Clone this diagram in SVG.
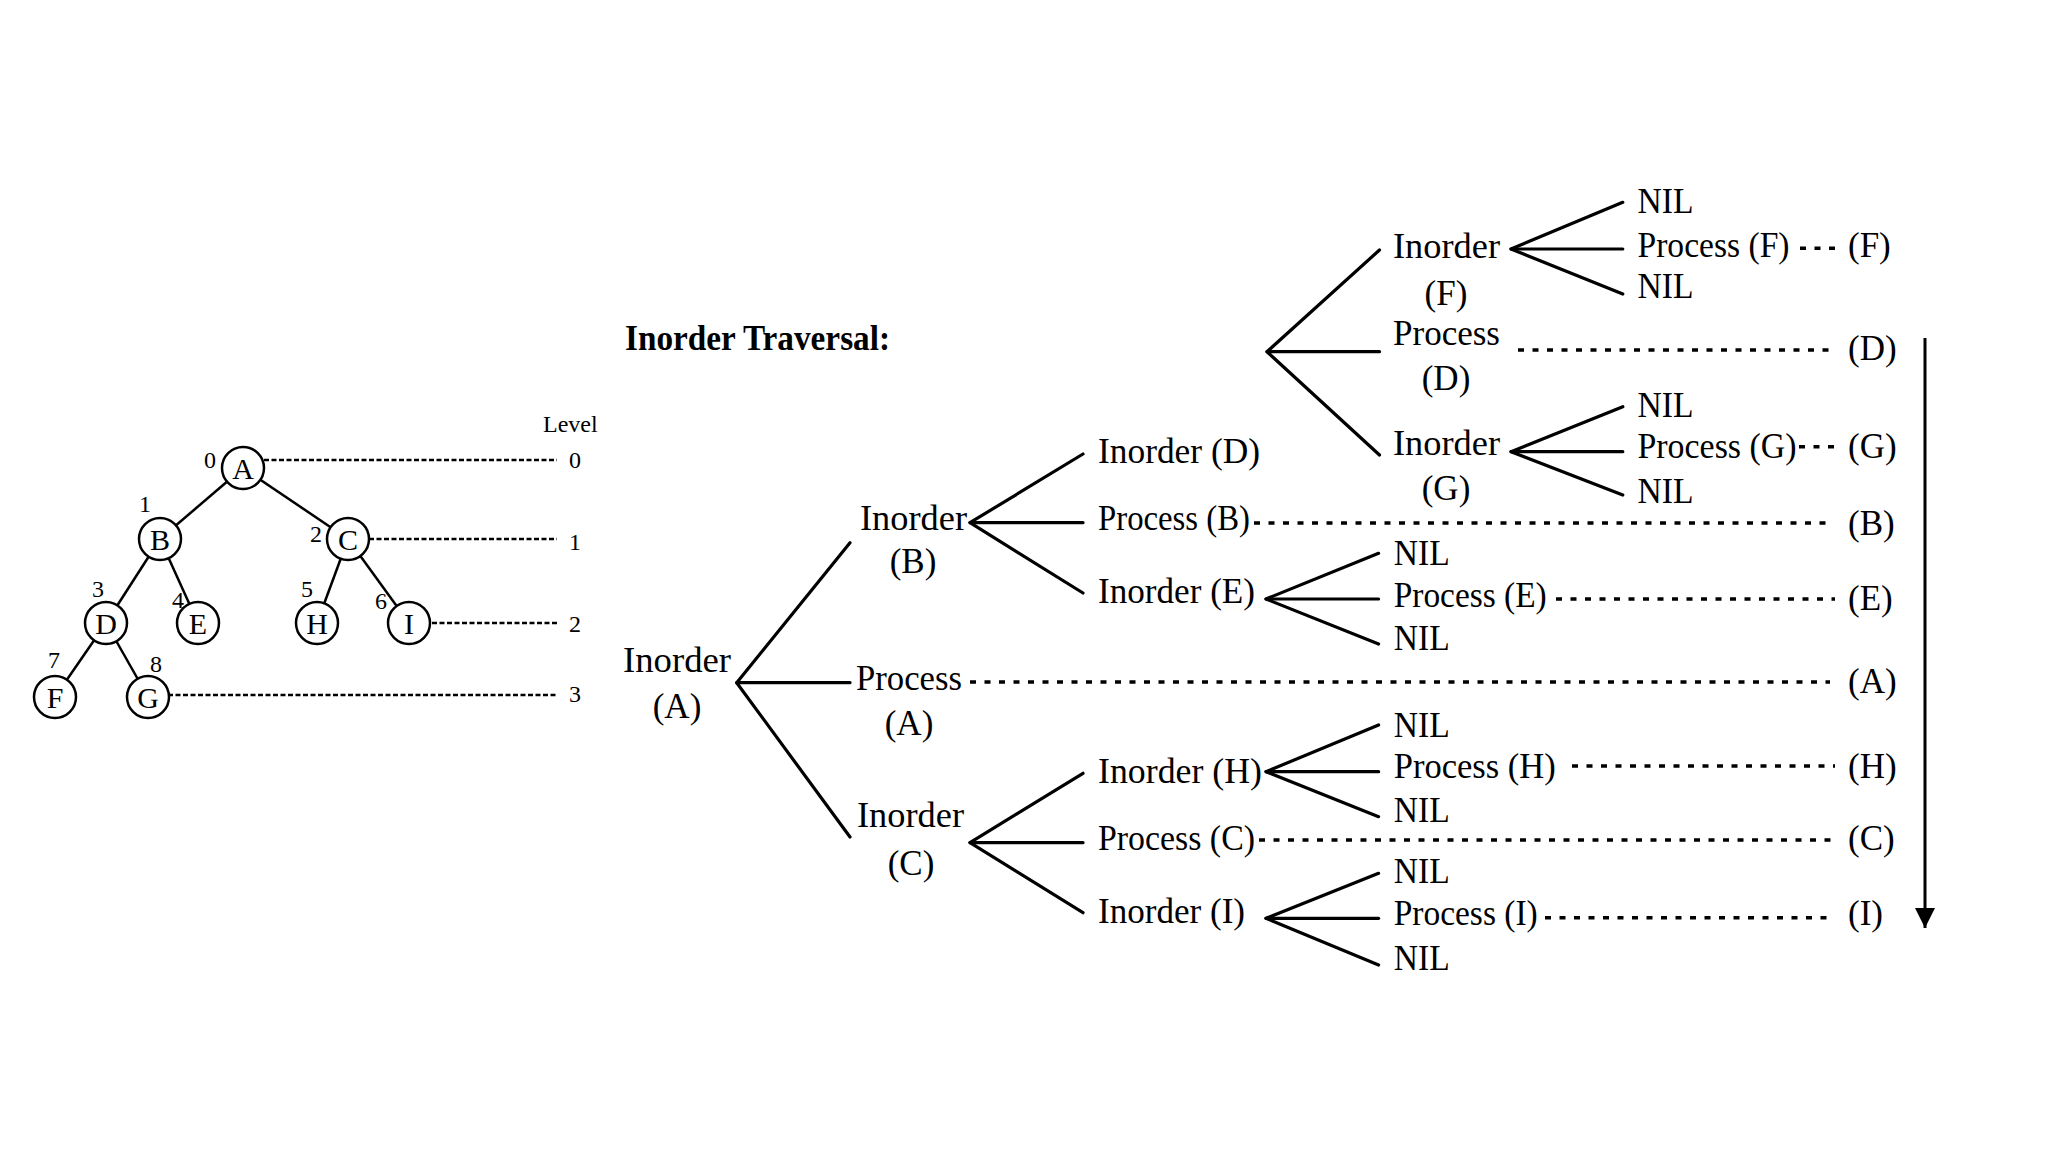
<svg xmlns="http://www.w3.org/2000/svg" width="2048" height="1152" viewBox="0 0 2048 1152">
<style>
  .t { font-family: "Liberation Serif", "Times New Roman", serif; font-size: 35px; fill: #000; }
  .s { font-family: "Liberation Serif", "Times New Roman", serif; font-size: 24px; fill: #000; }
  .c { text-anchor: middle; }
  .ttl { font-family: "Liberation Serif", "Times New Roman", serif; font-size: 35px; font-weight: bold; fill: #000; }
  .ln { stroke: #000; stroke-width: 3.2; fill: none; stroke-linecap: round; stroke-linejoin: round; }
  .edge { stroke: #000; stroke-width: 2.5; fill: none; }
  .dot { stroke: #000; stroke-width: 3.5; fill: none; stroke-dasharray: 6 8.5; }
  .lvl { stroke: #000; stroke-width: 2.5; fill: none; stroke-dasharray: 5 2.5; }
  .circ { fill: #fff; stroke: #000; stroke-width: 2.5; }
  .nl { font-family: "Liberation Serif", "Times New Roman", serif; font-size: 30px; fill: #000; text-anchor: middle; }
</style>
<defs>
  <marker id="arr" viewBox="0 0 10 10" refX="10" refY="5" markerWidth="20" markerHeight="22" markerUnits="userSpaceOnUse" orient="auto">
    <path d="M0,0 L10,5 L0,10 Z" fill="#000"/>
  </marker>
</defs>
<rect width="2048" height="1152" fill="#fff"/>

<!-- left tree -->
<g id="tree-edges">
  <line class="edge" x1="243" y1="468" x2="160" y2="539"/>
  <line class="edge" x1="243" y1="468" x2="348" y2="539"/>
  <line class="edge" x1="160" y1="539" x2="106" y2="623"/>
  <line class="edge" x1="160" y1="539" x2="198" y2="623"/>
  <line class="edge" x1="348" y1="539" x2="317" y2="623"/>
  <line class="edge" x1="348" y1="539" x2="409" y2="623"/>
  <line class="edge" x1="106" y1="623" x2="55" y2="697"/>
  <line class="edge" x1="106" y1="623" x2="148" y2="697"/>
</g>
<g id="level-lines">
  <line class="lvl" x1="264" y1="460" x2="557" y2="460"/>
  <line class="lvl" x1="369" y1="539" x2="557" y2="539"/>
  <line class="lvl" x1="432" y1="623" x2="557" y2="623"/>
  <line class="lvl" x1="168" y1="695" x2="557" y2="695"/>
</g>
<g id="node-A"><circle class="circ" cx="243" cy="468" r="21"/><text class="nl" x="243" y="478.5">A</text><text class="s c" x="210" y="468">0</text></g>
<g id="node-B"><circle class="circ" cx="160" cy="539" r="21"/><text class="nl" x="160" y="549.5">B</text><text class="s c" x="145" y="512">1</text></g>
<g id="node-C"><circle class="circ" cx="348" cy="539" r="21"/><text class="nl" x="348" y="549.5">C</text><text class="s c" x="316" y="542">2</text></g>
<g id="node-D"><circle class="circ" cx="106" cy="623" r="21"/><text class="nl" x="106" y="633.5">D</text><text class="s c" x="98" y="597">3</text></g>
<g id="node-E"><circle class="circ" cx="198" cy="623" r="21"/><text class="nl" x="198" y="633.5">E</text><text class="s c" x="178" y="608">4</text></g>
<g id="node-H"><circle class="circ" cx="317" cy="623" r="21"/><text class="nl" x="317" y="633.5">H</text><text class="s c" x="307" y="597">5</text></g>
<g id="node-I"><circle class="circ" cx="409" cy="623" r="21"/><text class="nl" x="409" y="633.5">I</text><text class="s c" x="381" y="609">6</text></g>
<g id="node-F"><circle class="circ" cx="55" cy="697" r="21"/><text class="nl" x="55" y="707.5">F</text><text class="s c" x="54" y="668">7</text></g>
<g id="node-G"><circle class="circ" cx="148" cy="697" r="21"/><text class="nl" x="148" y="707.5">G</text><text class="s c" x="156" y="672">8</text></g>
<g id="level-labels">
  <text class="s" x="543" y="432" font-size="26">Level</text>
  <text class="s c" x="575" y="468">0</text>
  <text class="s c" x="575" y="550">1</text>
  <text class="s c" x="575" y="632">2</text>
  <text class="s c" x="575" y="702">3</text>
</g>

<!-- title -->
<g id="title"><text class="ttl" x="625" y="350" textLength="265" lengthAdjust="spacingAndGlyphs">Inorder Traversal:</text></g>

<!-- connectors -->
<g id="connectors">
  <polyline class="ln" points="850,542.7 736.7,682.7 850,837"/>
  <line class="ln" x1="736.7" y1="682.7" x2="850" y2="682.7"/>
  <polyline class="ln" points="1083,454 970,522.7 1083,593"/>
  <line class="ln" x1="970" y1="522.7" x2="1083" y2="522.7"/>
  <polyline class="ln" points="1083,773.3 970,842.7 1083,912.7"/>
  <line class="ln" x1="970" y1="842.7" x2="1083" y2="842.7"/>
  <polyline class="ln" points="1379.5,250 1267,351.7 1379.5,455"/>
  <line class="ln" x1="1267" y1="351.7" x2="1379.5" y2="351.7"/>
  <polyline class="ln" points="1622.8,202.3 1511,249 1622.8,294"/>
  <line class="ln" x1="1511" y1="249" x2="1622.8" y2="249"/>
  <polyline class="ln" points="1622.8,406.7 1511,451.7 1622.8,495"/>
  <line class="ln" x1="1511" y1="451.7" x2="1622.8" y2="451.7"/>
  <polyline class="ln" points="1378.6,553.3 1266,599 1378.6,644"/>
  <line class="ln" x1="1266" y1="599" x2="1378.6" y2="599"/>
  <polyline class="ln" points="1378.6,725 1266,771.7 1378.6,816.7"/>
  <line class="ln" x1="1266" y1="771.7" x2="1378.6" y2="771.7"/>
  <polyline class="ln" points="1378.6,873.3 1266,918.3 1378.6,965"/>
  <line class="ln" x1="1266" y1="918.3" x2="1378.6" y2="918.3"/>
  <line class="dot" x1="1800" y1="248.3" x2="1836" y2="248.3" stroke-dasharray="6 7"/>
  <line class="dot" x1="1518" y1="350" x2="1833" y2="350"/>
  <line class="dot" x1="1799" y1="446.7" x2="1836" y2="446.7" stroke-dasharray="6 7"/>
  <line class="dot" x1="1254" y1="523" x2="1830" y2="523"/>
  <line class="dot" x1="1556" y1="599" x2="1835" y2="599"/>
  <line class="dot" x1="970" y1="682" x2="1830" y2="682"/>
  <line class="dot" x1="1572" y1="766" x2="1835" y2="766"/>
  <line class="dot" x1="1259" y1="840" x2="1835" y2="840"/>
  <line class="dot" x1="1545" y1="917.7" x2="1830" y2="917.7"/>
  <line stroke="#000" stroke-width="3" x1="1925" y1="338" x2="1925" y2="928" marker-end="url(#arr)"/>
</g>

<!-- call nodes -->
<g id="inorder-A"><text class="t" x="623" y="671.7" textLength="108" lengthAdjust="spacingAndGlyphs">Inorder</text><text class="t c" x="677" y="718">(A)</text></g>
<g id="inorder-B"><text class="t" x="860" y="530" textLength="107" lengthAdjust="spacingAndGlyphs">Inorder</text><text class="t c" x="913" y="573">(B)</text></g>
<g id="process-A"><text class="t" x="856" y="690" textLength="106" lengthAdjust="spacingAndGlyphs">Process</text><text class="t c" x="909" y="735">(A)</text></g>
<g id="inorder-C"><text class="t" x="857" y="826.7" textLength="107" lengthAdjust="spacingAndGlyphs">Inorder</text><text class="t c" x="911" y="875">(C)</text></g>

<g id="inorder-D"><text class="t" x="1098" y="463.3" textLength="162" lengthAdjust="spacingAndGlyphs">Inorder (D)</text></g>
<g id="process-B"><text class="t" x="1098" y="530" textLength="152" lengthAdjust="spacingAndGlyphs">Process (B)</text></g>
<g id="inorder-E"><text class="t" x="1098" y="602.7" textLength="157" lengthAdjust="spacingAndGlyphs">Inorder (E)</text></g>
<g id="inorder-H"><text class="t" x="1098" y="783.3" textLength="164" lengthAdjust="spacingAndGlyphs">Inorder (H)</text></g>
<g id="process-C"><text class="t" x="1098" y="850" textLength="157" lengthAdjust="spacingAndGlyphs">Process (C)</text></g>
<g id="inorder-I"><text class="t" x="1098" y="923.3" textLength="147" lengthAdjust="spacingAndGlyphs">Inorder (I)</text></g>

<g id="inorder-F"><text class="t" x="1393" y="258.3" textLength="107" lengthAdjust="spacingAndGlyphs">Inorder</text><text class="t c" x="1446" y="305">(F)</text></g>
<g id="process-D"><text class="t" x="1393" y="345" textLength="107" lengthAdjust="spacingAndGlyphs">Process</text><text class="t c" x="1446" y="390">(D)</text></g>
<g id="inorder-G"><text class="t" x="1393" y="455" textLength="107" lengthAdjust="spacingAndGlyphs">Inorder</text><text class="t c" x="1446" y="500">(G)</text></g>

<g id="leaf-F">
  <text class="t" x="1637.5" y="213.3" textLength="56" lengthAdjust="spacingAndGlyphs">NIL</text>
  <text class="t" x="1637.5" y="257.3" textLength="152" lengthAdjust="spacingAndGlyphs">Process (F)</text>
  <text class="t" x="1637.5" y="298.3" textLength="56" lengthAdjust="spacingAndGlyphs">NIL</text>
</g>
<g id="leaf-G">
  <text class="t" x="1637.5" y="416.7" textLength="56" lengthAdjust="spacingAndGlyphs">NIL</text>
  <text class="t" x="1637.5" y="458.3" textLength="159" lengthAdjust="spacingAndGlyphs">Process (G)</text>
  <text class="t" x="1637.5" y="503" textLength="56" lengthAdjust="spacingAndGlyphs">NIL</text>
</g>
<g id="leaf-E">
  <text class="t" x="1393.7" y="565" textLength="56" lengthAdjust="spacingAndGlyphs">NIL</text>
  <text class="t" x="1393.7" y="607.3" textLength="153" lengthAdjust="spacingAndGlyphs">Process (E)</text>
  <text class="t" x="1393.7" y="650" textLength="56" lengthAdjust="spacingAndGlyphs">NIL</text>
</g>
<g id="leaf-H">
  <text class="t" x="1393.7" y="736.7" textLength="56" lengthAdjust="spacingAndGlyphs">NIL</text>
  <text class="t" x="1393.7" y="778.3" textLength="162" lengthAdjust="spacingAndGlyphs">Process (H)</text>
  <text class="t" x="1393.7" y="821.7" textLength="56" lengthAdjust="spacingAndGlyphs">NIL</text>
</g>
<g id="leaf-I">
  <text class="t" x="1393.7" y="883.3" textLength="56" lengthAdjust="spacingAndGlyphs">NIL</text>
  <text class="t" x="1393.7" y="925" textLength="144" lengthAdjust="spacingAndGlyphs">Process (I)</text>
  <text class="t" x="1393.7" y="970" textLength="56" lengthAdjust="spacingAndGlyphs">NIL</text>
</g>

<g id="results">
  <text class="t" x="1848" y="257">(F)</text>
  <text class="t" x="1848" y="360">(D)</text>
  <text class="t" x="1848" y="458">(G)</text>
  <text class="t" x="1848" y="535">(B)</text>
  <text class="t" x="1848" y="610">(E)</text>
  <text class="t" x="1848" y="693">(A)</text>
  <text class="t" x="1848" y="778">(H)</text>
  <text class="t" x="1848" y="850">(C)</text>
  <text class="t" x="1848" y="925">(I)</text>
</g>
</svg>
